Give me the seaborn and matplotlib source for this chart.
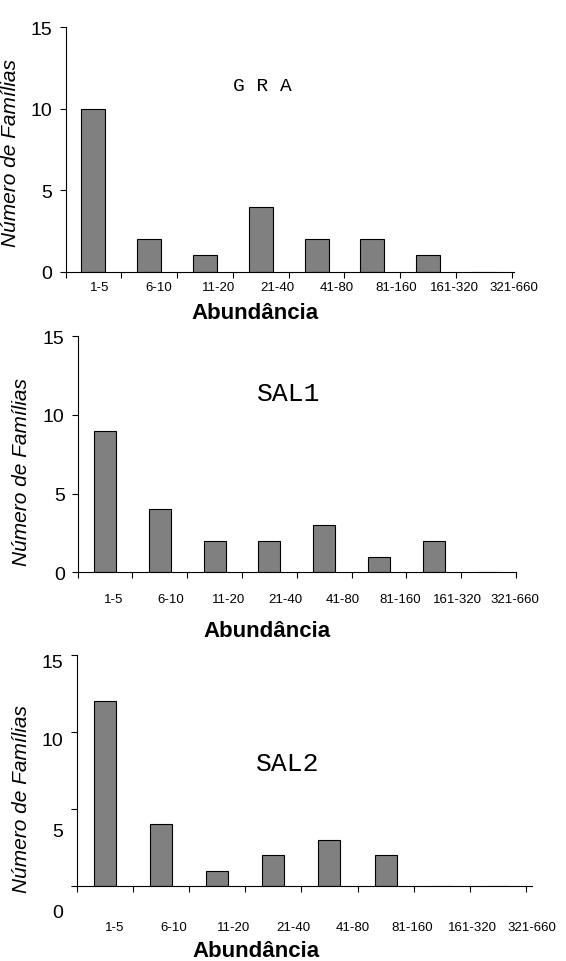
import numpy as np
import matplotlib
matplotlib.use("Agg")
import matplotlib.pyplot as plt
import matplotlib.transforms as mtransforms
import seaborn as sns

# abundance classes (number of individuals per family)
classes = ["1-5", "6-10", "11-20", "21-40", "41-80", "81-160", "161-320", "321-660"]

# number of families per abundance class, one list per site
gra = [10, 2, 1, 4, 2, 2, 1, 0]
sal1 = [9, 4, 2, 2, 3, 1, 2, 0]
sal2 = [12, 4, 1, 2, 3, 2, 0, 0]

site_names = ["G R A", "SAL1", "SAL2"]
site_values = [gra, sal1, sal2]

yticks = [0, 5, 10, 15]

######################
## Layout of the three panels (pixel-fitted to the original scan)
######################

W, H = 566, 962
panels = [
    # axes rect, bar width, tick label drift (a + b*i), label pad, site label pos, site font, ylabel pos, xlabel pos
    dict(rect=[65.5, 28.3, 514, 272.7], width=0.43, drift=(0.12, 0.06), pad=2.4,
         name_pos=(0.44, 0.76), name_size=14, ylab=(-0.101, 0.49), xlab=(0.4225, -0.165)),
    dict(rect=[77.6, 337, 516, 573.3], width=0.40, drift=(0.15, 0.048), pad=10.8,
         name_pos=(0.481, 0.759), name_size=19, ylab=(-0.107, 0.429), xlab=(0.432, -0.248)),
    dict(rect=[76.5, 656, 532, 887], width=0.39, drift=(0.17, 0.062), pad=21,
         name_pos=(0.463, 0.532), name_size=19, ylab=(-0.10, 0.381), xlab=(0.394, -0.281)),
]
# the last panel has its y labels sitting lower than their ticks (px)
ylabel_shift = [None, None, {0: 25, 5: 21, 10: 7, 15: 6}]

sns.set_style("ticks")
plt.rcParams['font.family'] = ['Liberation Sans', 'DejaVu Sans']
plt.rcParams.update({'text.color': 'black', 'axes.labelcolor': 'black',
                     'xtick.color': 'black', 'ytick.color': 'black',
                     'axes.edgecolor': 'black'})

fig = plt.figure(figsize=(W / 100, H / 100), dpi=100)

for k, (name, vals) in enumerate(zip(site_names, site_values)):
    p = panels[k]
    x0, y0, x1, y1 = p['rect']
    ax = fig.add_axes([x0 / W, 1 - y1 / H, (x1 - x0) / W, (y1 - y0) / H])

    sns.barplot(x=classes, y=vals, color="#808080", saturation=1, width=p['width'],
                edgecolor="black", linewidth=0.8, ax=ax)

    ax.set_xlim(-0.5, len(classes) - 0.5)
    ax.set_ylim(0, 15)
    ax.set_yticks(yticks)
    ax.set_yticklabels([str(t) for t in yticks], fontsize=14)

    # tick marks at class boundaries, labels slightly to the right of the bars
    a, b = p['drift']
    ax.set_xticks(np.arange(-0.5, len(classes)), labels=[""] * (len(classes) + 1))
    ax.set_xticks([i + a + b * i for i in range(len(classes))], labels=classes, minor=True)
    ax.tick_params(axis='x', which='minor', length=0, labelsize=9.5, pad=p['pad'] + 4.1)
    ax.tick_params(axis='x', which='major', length=4.1, width=0.8, color='black')
    ax.tick_params(axis='y', length=4.3, width=0.8, color='black', pad=5)

    for sp in ['top', 'right']:
        ax.spines[sp].set_visible(False)
    for sp in ['left', 'bottom']:
        ax.spines[sp].set_color('black')
        ax.spines[sp].set_linewidth(0.8)

    if ylabel_shift[k]:
        for t, lab in zip(yticks, ax.get_yticklabels()):
            dy = ylabel_shift[k][t] / 100
            lab.set_transform(lab.get_transform() + mtransforms.ScaledTranslation(0, -dy, fig.dpi_scale_trans))

    ax.set_ylabel("Número de Famílias", fontsize=15, style='italic')
    ax.yaxis.set_label_coords(*p['ylab'])
    ax.set_xlabel("Abundância", fontsize=16, fontweight='bold')
    ax.xaxis.set_label_coords(*p['xlab'])
    ax.xaxis.label.set_va('center')

    ax.text(*p['name_pos'], name, transform=ax.transAxes, ha='center', va='center',
            fontsize=p['name_size'], family='Liberation Mono')

plt.savefig("out.png", dpi=100)
plt.close()
